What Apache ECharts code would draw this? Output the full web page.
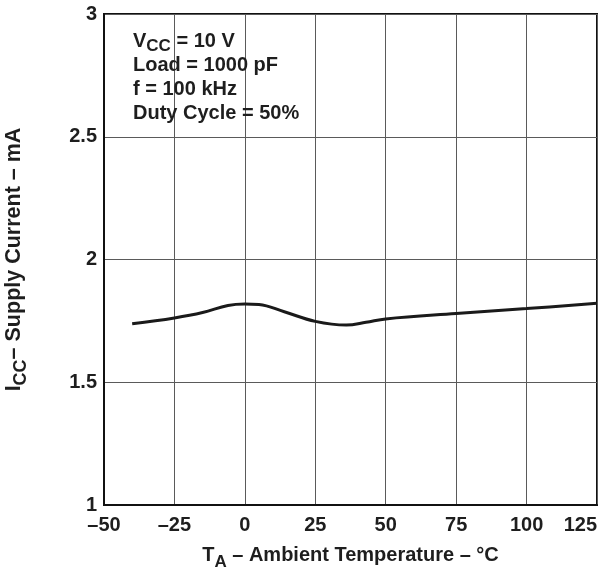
<!DOCTYPE html>
<html>
<head>
<meta charset="utf-8">
<script src="https://cdn.jsdelivr.net/npm/echarts@6/dist/echarts.min.js"></script>
<style>
html,body{margin:0;padding:0;background:#fff;}
#c{width:614px;height:569px;}
</style>
</head>
<body>
<div id="c"></div>
<script>
// Data
var temperature = [-40, -25, -15, -6, 0, 5, 14, 25, 36, 43, 50, 75, 100, 125];
var supplyCurrent = [1.738, 1.762, 1.784, 1.813, 1.819, 1.817, 1.787, 1.748, 1.733, 1.744, 1.758, 1.780, 1.800, 1.822];
var xTicks = [-50, -25, 0, 25, 50, 75, 100, 125];
var yTicks = [1, 1.5, 2, 2.5, 3];
var conditions = ['V|CC| = 10 V', 'Load = 1000 pF', 'f = 100 kHz', 'Duty Cycle = 50%'];

var FONT = '"Liberation Sans", Arial, Helvetica, sans-serif';
var TXT = '#1e1e1e';
var chart = echarts.init(document.getElementById('c'), null, {renderer: 'canvas'});

var data = temperature.map(function (t, i) { return [t, supplyCurrent[i]]; });

var richX = {
  b: {fontFamily: FONT, fontWeight: 'bold', fontSize: 20, color: TXT, padding: [0, 0, 7, 0]},
  s: {fontFamily: FONT, fontWeight: 'bold', fontSize: 17, color: TXT, padding: [7, 0, 0, 0]}
};
var richY = {
  b: {fontFamily: FONT, fontWeight: 'bold', fontSize: 21.5, color: TXT, padding: [0, 0, 7, 0]},
  s: {fontFamily: FONT, fontWeight: 'bold', fontSize: 18, color: TXT, padding: [7, 0, 0, 0]}
};
var richA = {
  b: {fontFamily: FONT, fontWeight: 'bold', fontSize: 20, color: TXT, padding: [0, 0, 5, 0], lineHeight: 24},
  s: {fontFamily: FONT, fontWeight: 'bold', fontSize: 17, color: TXT, padding: [5, 0, 0, 0], lineHeight: 24}
};

function condText(line) {
  var parts = line.split('|');
  if (parts.length === 3) return '{b|' + parts[0] + '}{s|' + parts[1] + '}{b|' + parts[2] + '}';
  return '{b|' + line + '}';
}

var option = {
  animation: false,
  backgroundColor: '#fff',
  grid: {left: 104, top: 14, width: 493, height: 491, containLabel: false,
         outerBoundsMode: 'none',
         show: true, borderColor: '#111', borderWidth: 2},
  title: {
    text: conditions.map(condText).join('\n'),
    left: 128, top: 27,
    textStyle: {rich: richA}
  },
  xAxis: {
    type: 'value', min: -50, max: 125, interval: 25,
    axisLine: {show: true, onZero: false, lineStyle: {color: '#111', width: 2}},
    axisTick: {show: false},
    splitLine: {show: true, lineStyle: {color: '#5a5a5a', width: 1}},
    axisLabel: {
      margin: 10, color: TXT, fontFamily: FONT, fontWeight: 'bold', fontSize: 20,
      alignMaxLabel: 'right',
      formatter: function (v) { return String(v).replace('-', '\u2013'); }
    },
    name: '{b|T}{s|A}{b| \u2013 Ambient Temperature \u2013 \u00b0C}',
    nameLocation: 'middle', nameGap: 40,
    nameTextStyle: {rich: richX}
  },
  yAxis: {
    type: 'value', min: 1, max: 3, interval: 0.5,
    axisLine: {show: true, onZero: false, lineStyle: {color: '#111', width: 2}},
    axisTick: {show: false},
    splitLine: {show: true, lineStyle: {color: '#5a5a5a', width: 1}},
    axisLabel: {
      margin: 7, color: TXT, fontFamily: FONT, fontWeight: 'bold', fontSize: 20,
      formatter: function (v) { return String(v); }
    },
    name: '{b|I}{s|CC}{b|\u2013 Supply Current \u2013 mA}',
    nameLocation: 'middle', nameGap: 72, nameRotate: 90,
    nameTextStyle: {rich: richY}
  },
  series: [{
    type: 'line', data: data, smooth: 0.4, symbol: 'none',
    lineStyle: {color: '#1a1a1a', width: 3}
  }]
};
chart.setOption(option);
</script>
</body>
</html>
